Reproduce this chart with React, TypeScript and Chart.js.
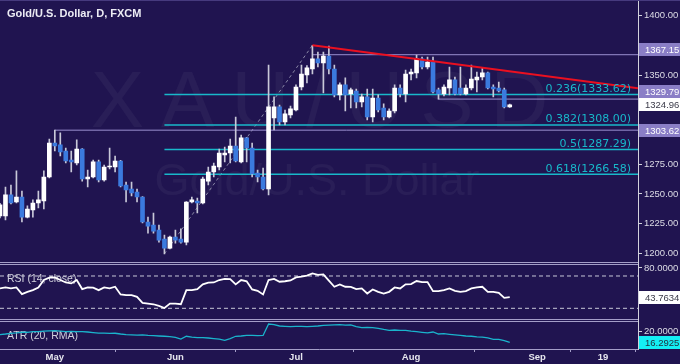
import React, { useEffect, useRef } from 'react';
import { Chart, registerables } from 'chart.js';

Chart.register(...registerables);

// ---------- data ----------
const opens = [
  1231.4, 1231.4, 1249.1, 1243.2, 1247.4, 1230.5, 1236.4, 1242.3, 1244.0, 1264.2,
  1292.8, 1291.2, 1286.1, 1278.5, 1276.0, 1287.8, 1262.5, 1264.2, 1276.9, 1261.7,
  1272.6, 1272.6, 1277.7, 1257.5, 1254.1, 1251.6, 1247.4, 1226.3, 1223.8, 1219.6,
  1212.0, 1204.4, 1213.6, 1212.0, 1209.4, 1243.2, 1244.0, 1242.3, 1260.8, 1268.4,
  1272.6, 1282.7, 1284.4, 1290.3, 1276.9, 1297.1, 1288.6, 1267.6, 1264.2, 1254.1,
  1313.9, 1323.2, 1310.5, 1316.4, 1320.6, 1340.0, 1350.1, 1355.1, 1363.6, 1360.2,
  1366.1, 1355.1, 1333.3, 1341.7, 1334.1, 1336.6, 1327.4, 1331.6, 1314.7, 1330.7,
  1322.3, 1314.7, 1319.8, 1339.1, 1334.1, 1350.9, 1351.8, 1363.6, 1356.8, 1361.0,
  1337.5, 1334.1, 1339.1, 1345.9, 1339.1, 1334.1, 1339.1, 1345.9, 1348.4, 1351.8,
  1340.0, 1339.1, 1337.5, 1323.2,
];
const highs = [
  1242.0, 1255.8, 1257.5, 1269.3, 1252.4, 1240.0, 1244.9, 1252.4, 1269.3, 1296.2,
  1303.62, 1301.3, 1288.6, 1286.1, 1295.4, 1288.2, 1270.1, 1278.5, 1278.5, 1274.3,
  1288.6, 1281.9, 1278.2, 1260.0, 1260.0, 1254.1, 1247.8, 1230.5, 1233.9, 1223.8,
  1215.3, 1214.4, 1219.6, 1220.5, 1243.6, 1247.4, 1246.5, 1264.2, 1272.6, 1276.0,
  1287.8, 1289.5, 1296.2, 1314.7, 1299.6, 1297.5, 1292.8, 1270.1, 1271.8, 1358.5,
  1331.6, 1324.8, 1320.6, 1324.0, 1341.7, 1358.5, 1358.0, 1375.04, 1369.4, 1369.4,
  1374.5, 1358.5, 1343.4, 1347.6, 1339.1, 1338.3, 1334.1, 1338.3, 1338.3, 1333.3,
  1325.7, 1321.5, 1341.7, 1341.7, 1354.3, 1355.1, 1366.9, 1365.2, 1365.2, 1365.2,
  1339.1, 1341.7, 1356.8, 1348.4, 1356.8, 1341.7, 1358.5, 1352.6, 1356.0, 1352.6,
  1341.7, 1344.2, 1339.1, 1325.5,
];
const lows = [
  1229.7, 1228.0, 1241.5, 1242.3, 1226.3, 1229.7, 1230.5, 1238.1, 1237.3, 1263.4,
  1286.1, 1281.9, 1276.0, 1268.4, 1274.3, 1260.8, 1255.8, 1263.4, 1260.0, 1260.8,
  1271.0, 1268.4, 1255.8, 1243.2, 1248.3, 1243.2, 1225.5, 1217.0, 1217.0, 1209.4,
  1199.55, 1203.6, 1208.6, 1208.6, 1207.0, 1242.3, 1233.9, 1241.5, 1257.5, 1264.2,
  1270.1, 1276.9, 1276.0, 1276.9, 1276.0, 1276.9, 1264.2, 1260.0, 1253.3, 1249.1,
  1303.8, 1308.0, 1308.0, 1313.9, 1319.8, 1337.5, 1343.4, 1350.9, 1356.8, 1334.9,
  1350.9, 1331.6, 1329.1, 1319.8, 1322.3, 1322.3, 1323.2, 1312.2, 1310.5, 1318.9,
  1312.2, 1313.9, 1318.1, 1331.6, 1327.4, 1345.9, 1347.6, 1355.1, 1355.1, 1334.9,
  1329.79, 1332.4, 1333.3, 1333.3, 1333.3, 1333.3, 1337.5, 1335.8, 1345.9, 1338.3,
  1331.6, 1335.8, 1322.3, 1322.8,
];
const closes = [
  1240.7, 1249.1, 1242.3, 1247.4, 1230.5, 1237.3, 1242.3, 1244.9, 1264.2, 1292.8,
  1290.3, 1285.3, 1277.7, 1276.9, 1287.8, 1262.5, 1264.2, 1276.9, 1261.7, 1272.6,
  1273.5, 1277.7, 1256.6, 1253.3, 1250.8, 1247.4, 1226.3, 1222.9, 1218.7, 1211.1,
  1204.4, 1213.6, 1211.1, 1209.4, 1243.2, 1244.9, 1242.3, 1262.5, 1268.4, 1273.5,
  1284.4, 1284.4, 1290.3, 1277.7, 1297.1, 1288.6, 1266.8, 1264.2, 1254.1, 1323.2,
  1323.2, 1310.5, 1317.3, 1321.5, 1340.0, 1350.9, 1356.0, 1363.6, 1360.2, 1366.1,
  1355.1, 1333.3, 1341.7, 1333.3, 1337.5, 1327.4, 1331.6, 1314.7, 1330.7, 1320.6,
  1314.7, 1319.8, 1339.1, 1334.1, 1350.9, 1352.6, 1363.6, 1356.8, 1361.0, 1335.8,
  1334.1, 1340.0, 1345.9, 1334.1, 1334.1, 1339.1, 1346.7, 1348.4, 1351.8, 1339.1,
  1338.3, 1336.6, 1323.2, 1324.96,
];
const rsiValues = [
  54.6, 55.8, 54.6, 55.8, 47.5, 50.4, 52.5, 55.8, 65.0, 67.9,
  68.3, 65.0, 62.0, 60.8, 65.0, 53.8, 55.8, 55.6, 52.5, 55.8,
  54.6, 56.7, 47.1, 46.3, 46.2, 44.2, 36.7, 35.8, 35.0, 32.9,
  30.4, 35.8, 35.7, 35.0, 52.5, 52.4, 53.8, 59.6, 61.7, 62.0,
  65.0, 66.3, 66.2, 59.6, 65.0, 63.5, 53.3, 51.7, 47.1, 65.0,
  66.3, 62.9, 63.5, 64.5, 68.3, 69.2, 70.4, 73.3, 71.5, 72.0,
  64.2, 56.7, 59.6, 56.7, 56.6, 53.8, 54.6, 48.3, 53.3, 50.4,
  48.3, 50.4, 55.8, 54.6, 59.6, 60.0, 63.8, 62.5, 62.4, 51.3,
  51.2, 52.5, 54.6, 51.7, 50.4, 51.3, 54.6, 55.8, 56.7, 50.4,
  50.3, 49.2, 42.9, 43.7634,
];
const atrValues = [
  19.0, 19.2, 19.45, 19.6, 19.8, 19.8, 20.0, 20.0, 20.2, 20.3,
  20.4, 20.2, 20.0, 20.1, 20.0, 20.0, 19.9, 19.7, 19.5, 19.5,
  19.4, 19.45, 19.2, 19.0, 18.9, 18.8, 18.9, 18.7, 18.6, 18.5,
  18.4, 18.3, 18.0, 17.4, 18.4, 18.1, 17.9, 17.9, 17.8, 17.6,
  17.4, 17.0, 17.6, 18.4, 18.5, 18.7, 18.7, 18.6, 18.7, 22.7,
  22.5, 22.0, 21.9, 21.8, 21.9, 21.9, 21.8, 21.9, 22.0, 22.2,
  22.3, 22.4, 22.5, 22.3, 22.4, 21.8, 21.4, 21.5, 21.4, 21.2,
  20.8, 20.5, 20.6, 20.5, 20.5, 20.2, 20.0, 19.8, 19.6, 19.9,
  19.2, 19.3, 19.1, 18.9, 18.7, 18.5, 18.4, 18.2, 18.1, 17.8,
  17.3, 17.3, 16.9, 16.2925,
];

const xTickIdx = [10, 32, 54, 75, 98, 110];
const xTickLabels = ['May', 'Jun', 'Jul', 'Aug', 'Sep', '19'];
const xMin = 0;
const xMax = 116.4;

const priceTicks = [1200, 1225, 1250, 1275, 1300, 1325, 1350, 1400];
const rsiTicks = [80];
const atrTicks = [20];
const rsiBands = [70, 30];

const fibRatios = ['0.236', '0.382', '0.5', '0.618'];
const fibLevels = [1333.62, 1308.0, 1287.29, 1266.58];
const fibStartIdx = 30;
const swingIdx = [30, 57];
const swingPrice = [1199.55, 1375.04];

const levelValues = [1367.15, 1303.62, 1329.79];
const levelStartIdx = [57, 10, 80];

const trendIdx = [57, 116.4];
const trendPrice = [1375.04, 1339.0];

const lastPrice = 1324.96;

// ---------- style ----------
const BG = '#201450';
const UP = '#ffffff';
const DOWN = '#3b7ade';
const WICK = '#c8c8d8';
const FIB = '#18b8ca';
const LEVEL = '#9a8fd0';
const AXIS = '#d2d2dc';
const SEP = '#a49ec8';
const SANS = '"Liberation Sans", Arial, sans-serif';

export default function App() {
  const ref = useRef<HTMLCanvasElement>(null);

  useEffect(() => {
    const canvas = ref.current as HTMLCanvasElement;
    const idx = opens.map((_, i) => i);
    const isUp = closes.map((c, i) => c >= opens[i]);

    const hline = (y: number, x0: number, color: string, width: number, order: number, axis = 'y', dash: number[] = []) => ({
      type: 'line',
      data: [{ x: x0, y }, { x: xMax, y }],
      borderColor: color,
      borderWidth: width,
      borderDash: dash,
      pointRadius: 0,
      yAxisID: axis,
      xAxisID: 'x',
      order,
    });

    const datasets: any[] = [
      {
        type: 'line',
        data: trendIdx.map((x, k) => ({ x, y: trendPrice[k] })),
        borderColor: '#ea1020',
        borderWidth: 2,
        pointRadius: 0,
        yAxisID: 'y',
        xAxisID: 'x',
        order: 0,
      },
      {
        type: 'bar',
        data: idx.map((i) => ({ x: i, y: [opens[i], closes[i]] })),
        backgroundColor: isUp.map((u) => (u ? UP : DOWN)),
        borderWidth: 0,
        barThickness: 4,
        minBarLength: 1,
        grouped: false,
        yAxisID: 'y',
        xAxisID: 'x',
        order: 1,
      },
      {
        type: 'bar',
        data: idx.map((i) => ({ x: i, y: [lows[i], highs[i]] })),
        backgroundColor: WICK,
        borderWidth: 0,
        barThickness: 1,
        grouped: false,
        yAxisID: 'y',
        xAxisID: 'x',
        order: 2,
      },
      ...fibLevels.map((v) => hline(v, fibStartIdx, FIB, 1.5, 3)),
      ...levelValues.map((v, k) => hline(v, levelStartIdx[k], LEVEL, 1, 3)),
      {
        type: 'line',
        data: swingIdx.map((x, k) => ({ x, y: swingPrice[k] })),
        borderColor: '#8c8aa8',
        borderWidth: 1,
        borderDash: [3, 3],
        pointRadius: 0,
        yAxisID: 'y',
        xAxisID: 'x',
        order: 4,
      },
      ...rsiBands.map((v) => hline(v, xMin, '#c8c8d8', 1, 3, 'yRsi', [4, 3])),
      {
        type: 'line',
        data: idx.map((i) => ({ x: i, y: rsiValues[i] })),
        borderColor: '#ffffff',
        borderWidth: 1.8,
        pointRadius: 0,
        yAxisID: 'yRsi',
        xAxisID: 'x',
        order: 1,
      },
      {
        type: 'line',
        data: idx.map((i) => ({ x: i, y: atrValues[i] })),
        borderColor: '#1ab4cc',
        borderWidth: 1.3,
        pointRadius: 0,
        yAxisID: 'yAtr',
        xAxisID: 'x',
        order: 1,
      },
    ];

    const tickFont = { family: SANS, size: 9.5 };

    const yAxis = (weight: number, min: number, max: number, values: number[], digits: number) => ({
      type: 'linear',
      position: 'right',
      stack: 'panes',
      stackWeight: weight,
      min,
      max,
      border: { display: true, color: AXIS, width: 1 },
      grid: { drawOnChartArea: false, drawTicks: true, tickLength: 4, color: AXIS },
      ticks: {
        color: '#dcdce6',
        font: tickFont,
        padding: 2,
        autoSkip: false,
        callback: (v: any) => Number(v).toFixed(digits),
      },
      afterBuildTicks: (axis: any) => {
        axis.ticks = values.map((v) => ({ value: v }));
      },
      afterFit: (axis: any) => {
        axis.width = 42;
        axis.paddingTop = 0;
        axis.paddingBottom = 0;
      },
    });

    const badge = (ctx: any, x0: number, w: number, y: number, text: string, bg: string, fg: string) => {
      const h = 13;
      const top = Math.round(y - h / 2);
      ctx.fillStyle = bg;
      ctx.fillRect(x0, top, w, h);
      ctx.fillStyle = fg;
      ctx.font = `9.5px ${SANS}`;
      ctx.textAlign = 'left';
      ctx.textBaseline = 'middle';
      ctx.fillText(text, x0 + 6, top + h / 2 + 0.5);
    };

    const decor = {
      id: 'decor',
      beforeDraw(chart: any) {
        const ctx = chart.ctx;
        ctx.save();
        ctx.fillStyle = BG;
        ctx.fillRect(0, 0, chart.width, chart.height);
        ctx.restore();
      },
      beforeDatasetsDraw(chart: any) {
        const ctx = chart.ctx;
        const area = chart.chartArea;
        const yM = chart.scales.y;
        const yR = chart.scales.yRsi;
        const yA = chart.scales.yAtr;
        const cx = (area.left + area.right) / 2;
        ctx.save();
        // watermark
        ctx.fillStyle = 'rgba(255,255,255,0.045)';
        ctx.textAlign = 'center';
        ctx.textBaseline = 'alphabetic';
        ctx.font = `80px ${SANS}`;
        try { (ctx as any).letterSpacing = '17px'; } catch (e) { /* ignore */ }
        ctx.fillText('XAU/USD', cx + 9, yM.top + 127);
        try { (ctx as any).letterSpacing = '0px'; } catch (e) { /* ignore */ }
        ctx.font = `45px ${SANS}`;
        ctx.fillText('Gold/U.S. Dollar', cx - 2, yM.top + 195);
        // title
        ctx.textAlign = 'left';
        ctx.textBaseline = 'middle';
        ctx.fillStyle = '#ececf4';
        ctx.font = `bold 11px ${SANS}`;
        ctx.fillText('Gold/U.S. Dollar, D, FXCM', 7, yM.top + 14);
        // panel labels
        ctx.fillStyle = '#d0d0dc';
        ctx.font = `10.5px ${SANS}`;
        ctx.fillText('RSI (14, close)', 7, yR.top + 15.5);
        ctx.fillText('ATR (20, RMA)', 7, yA.top + 15);
        ctx.restore();
      },
      afterDatasetsDraw(chart: any) {
        const ctx = chart.ctx;
        const area = chart.chartArea;
        const yM = chart.scales.y;
        const yR = chart.scales.yRsi;
        const yA = chart.scales.yAtr;
        ctx.save();
        // top frame
        ctx.strokeStyle = '#463a7e';
        ctx.lineWidth = 1;
        ctx.beginPath();
        ctx.moveTo(0, 0.5);
        ctx.lineTo(chart.width, 0.5);
        ctx.stroke();
        // panel separators
        ctx.strokeStyle = SEP;
        [yM.bottom, yR.bottom].forEach((b: number) => {
          const r = Math.round(b);
          ctx.beginPath();
          ctx.moveTo(area.left, r - 1.5);
          ctx.lineTo(area.right, r - 1.5);
          ctx.moveTo(area.left, r + 0.5);
          ctx.lineTo(area.right, r + 0.5);
          ctx.stroke();
        });
        // fib labels
        ctx.fillStyle = FIB;
        ctx.font = `11px "DejaVu Sans", Verdana, sans-serif`;
        ctx.textAlign = 'right';
        ctx.textBaseline = 'alphabetic';
        fibLevels.forEach((v, k) => {
          const y = yM.getPixelForValue(v);
          ctx.fillText(`${fibRatios[k]}(${v.toFixed(2)})`, area.right - 7, y - 2.5);
        });
        // price badges (kept clear of the current-price badge, nudged up off the line like the source)
        const bx = area.right + 1;
        const bw = chart.width - bx;
        const yLast = yM.getPixelForValue(lastPrice);
        levelValues.forEach((v) => {
          let y = yM.getPixelForValue(v);
          if (Math.abs(y - yLast) < 13) y = v > lastPrice ? yLast - 13 : yLast + 13;
          else if (v > lastPrice) y -= 5;
          badge(ctx, bx, bw, y, v.toFixed(2), '#8a7ec6', '#ffffff');
        });
        badge(ctx, bx, bw, yLast, lastPrice.toFixed(2), '#ffffff', '#3a3a48');
        const rLast = rsiValues[rsiValues.length - 1];
        badge(ctx, bx, bw, yR.getPixelForValue(rLast), rLast.toFixed(4), '#ffffff', '#3a3a48');
        const aLast = atrValues[atrValues.length - 1];
        badge(ctx, bx, bw, yA.getPixelForValue(aLast), aLast.toFixed(4), '#14eef4', '#203040');
        ctx.restore();
      },
    };

    const chart = new Chart(canvas, {
      type: 'bar',
      data: { datasets },
      options: {
        responsive: false,
        animation: false,
        events: [],
        layout: { padding: 0 },
        plugins: { legend: { display: false }, tooltip: { enabled: false } },
        scales: {
          x: {
            type: 'linear',
            min: xMin,
            max: xMax,
            offset: false,
            border: { display: true, color: SEP, width: 1 },
            grid: { drawOnChartArea: false, drawTicks: true, tickLength: 3, color: SEP },
            ticks: {
              color: '#e6e6ee',
              font: { family: SANS, size: 9.5, weight: 'bold' },
              padding: 0,
              autoSkip: false,
              maxRotation: 0,
              callback: (_v: any, i: number) => xTickLabels[i],
            },
            afterBuildTicks: (axis: any) => {
              axis.ticks = xTickIdx.map((v) => ({ value: v }));
            },
            afterFit: (axis: any) => {
              axis.height = 15;
              axis.paddingLeft = 0;
              axis.paddingRight = 0;
            },
          },
          y: yAxis(263.5, 1191.4, 1413.2, priceTicks, 2),
          yRsi: yAxis(57.5, 14.27, 85.48, rsiTicks, 4),
          yAtr: yAxis(28, 13.94, 23.75, atrTicks, 4),
        } as any,
      },
      plugins: [decor],
    } as any);

    return () => chart.destroy();
  }, []);

  return (
    <div style={{ position: 'absolute', left: 0, top: 0, width: 680, height: 364, background: BG }}>
      <canvas ref={ref} width={680} height={364} style={{ display: 'block', width: 680, height: 364 }} />
    </div>
  );
}
